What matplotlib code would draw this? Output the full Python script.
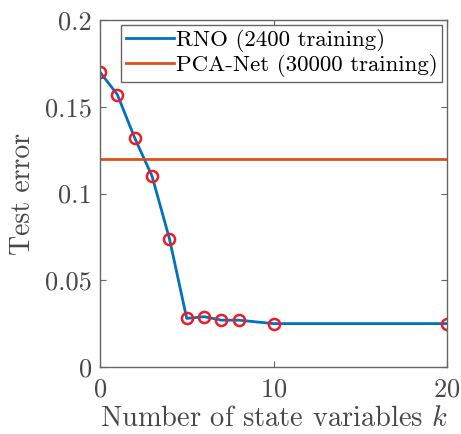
import matplotlib
matplotlib.use("Agg")
import matplotlib.pyplot as plt

plt.rcParams['font.family'] = 'serif'
plt.rcParams['font.serif'] = ['cmr10']
plt.rcParams['mathtext.fontset'] = 'cm'
plt.rcParams['axes.formatter.use_mathtext'] = True

# data
k = [0, 1, 2, 3, 4, 5, 6, 7, 8, 10, 20]
rno_err = [0.170, 0.157, 0.132, 0.110, 0.074, 0.028, 0.029, 0.027, 0.027, 0.025, 0.025]
pca_err = 0.12
xticks = [0, 10, 20]
yticks = [0, 0.05, 0.1, 0.15, 0.2]
yticklabels = ['0', '0.05', '0.1', '0.15', '0.2']

fig = plt.figure(figsize=(4.61, 4.34), dpi=100)
ax = fig.add_axes([100/461, 1 - 367/434, 347/461, 347/434])

ax.plot(k, rno_err, color='#0072BD', lw=2, label='RNO (2400 training)')
ax.axhline(pca_err, color='#D95319', lw=2, label='PCA-Net (30000 training)')
ax.plot(k, rno_err, ls='none', marker='o', ms=8, mfc='none', mec='#ee1c24', mew=1.8)

ax.set_xlim(0, 20)
ax.set_ylim(0, 0.2)
ax.set_xticks(xticks)
ax.set_yticks(yticks)
ax.set_yticklabels(yticklabels)

txt = '#484848'
ax.tick_params(direction='in', top=True, right=True, length=4, width=0.8,
               color='#666666', labelsize=19, labelcolor=txt, pad=6)
ax.tick_params(axis='x', pad=8)
for s in ax.spines.values():
    s.set_color('#666666')
    s.set_linewidth(1)

ax.set_xlabel(r'Number of state variables $k$', fontsize=20.5, color=txt, labelpad=3)
ax.set_ylabel('Test error', fontsize=20, color=txt, labelpad=6)

leg = ax.legend(loc='upper right', fontsize=16.5, handlelength=2.1, handletextpad=0.1,
                borderpad=0.2, labelspacing=0.1, fancybox=False, framealpha=1,
                borderaxespad=0.2)
leg.get_frame().set_edgecolor('#666666')
leg.get_frame().set_linewidth(1)
for t in leg.get_texts():
    t.set_color('black')

fig.savefig('out.png', dpi=100)
